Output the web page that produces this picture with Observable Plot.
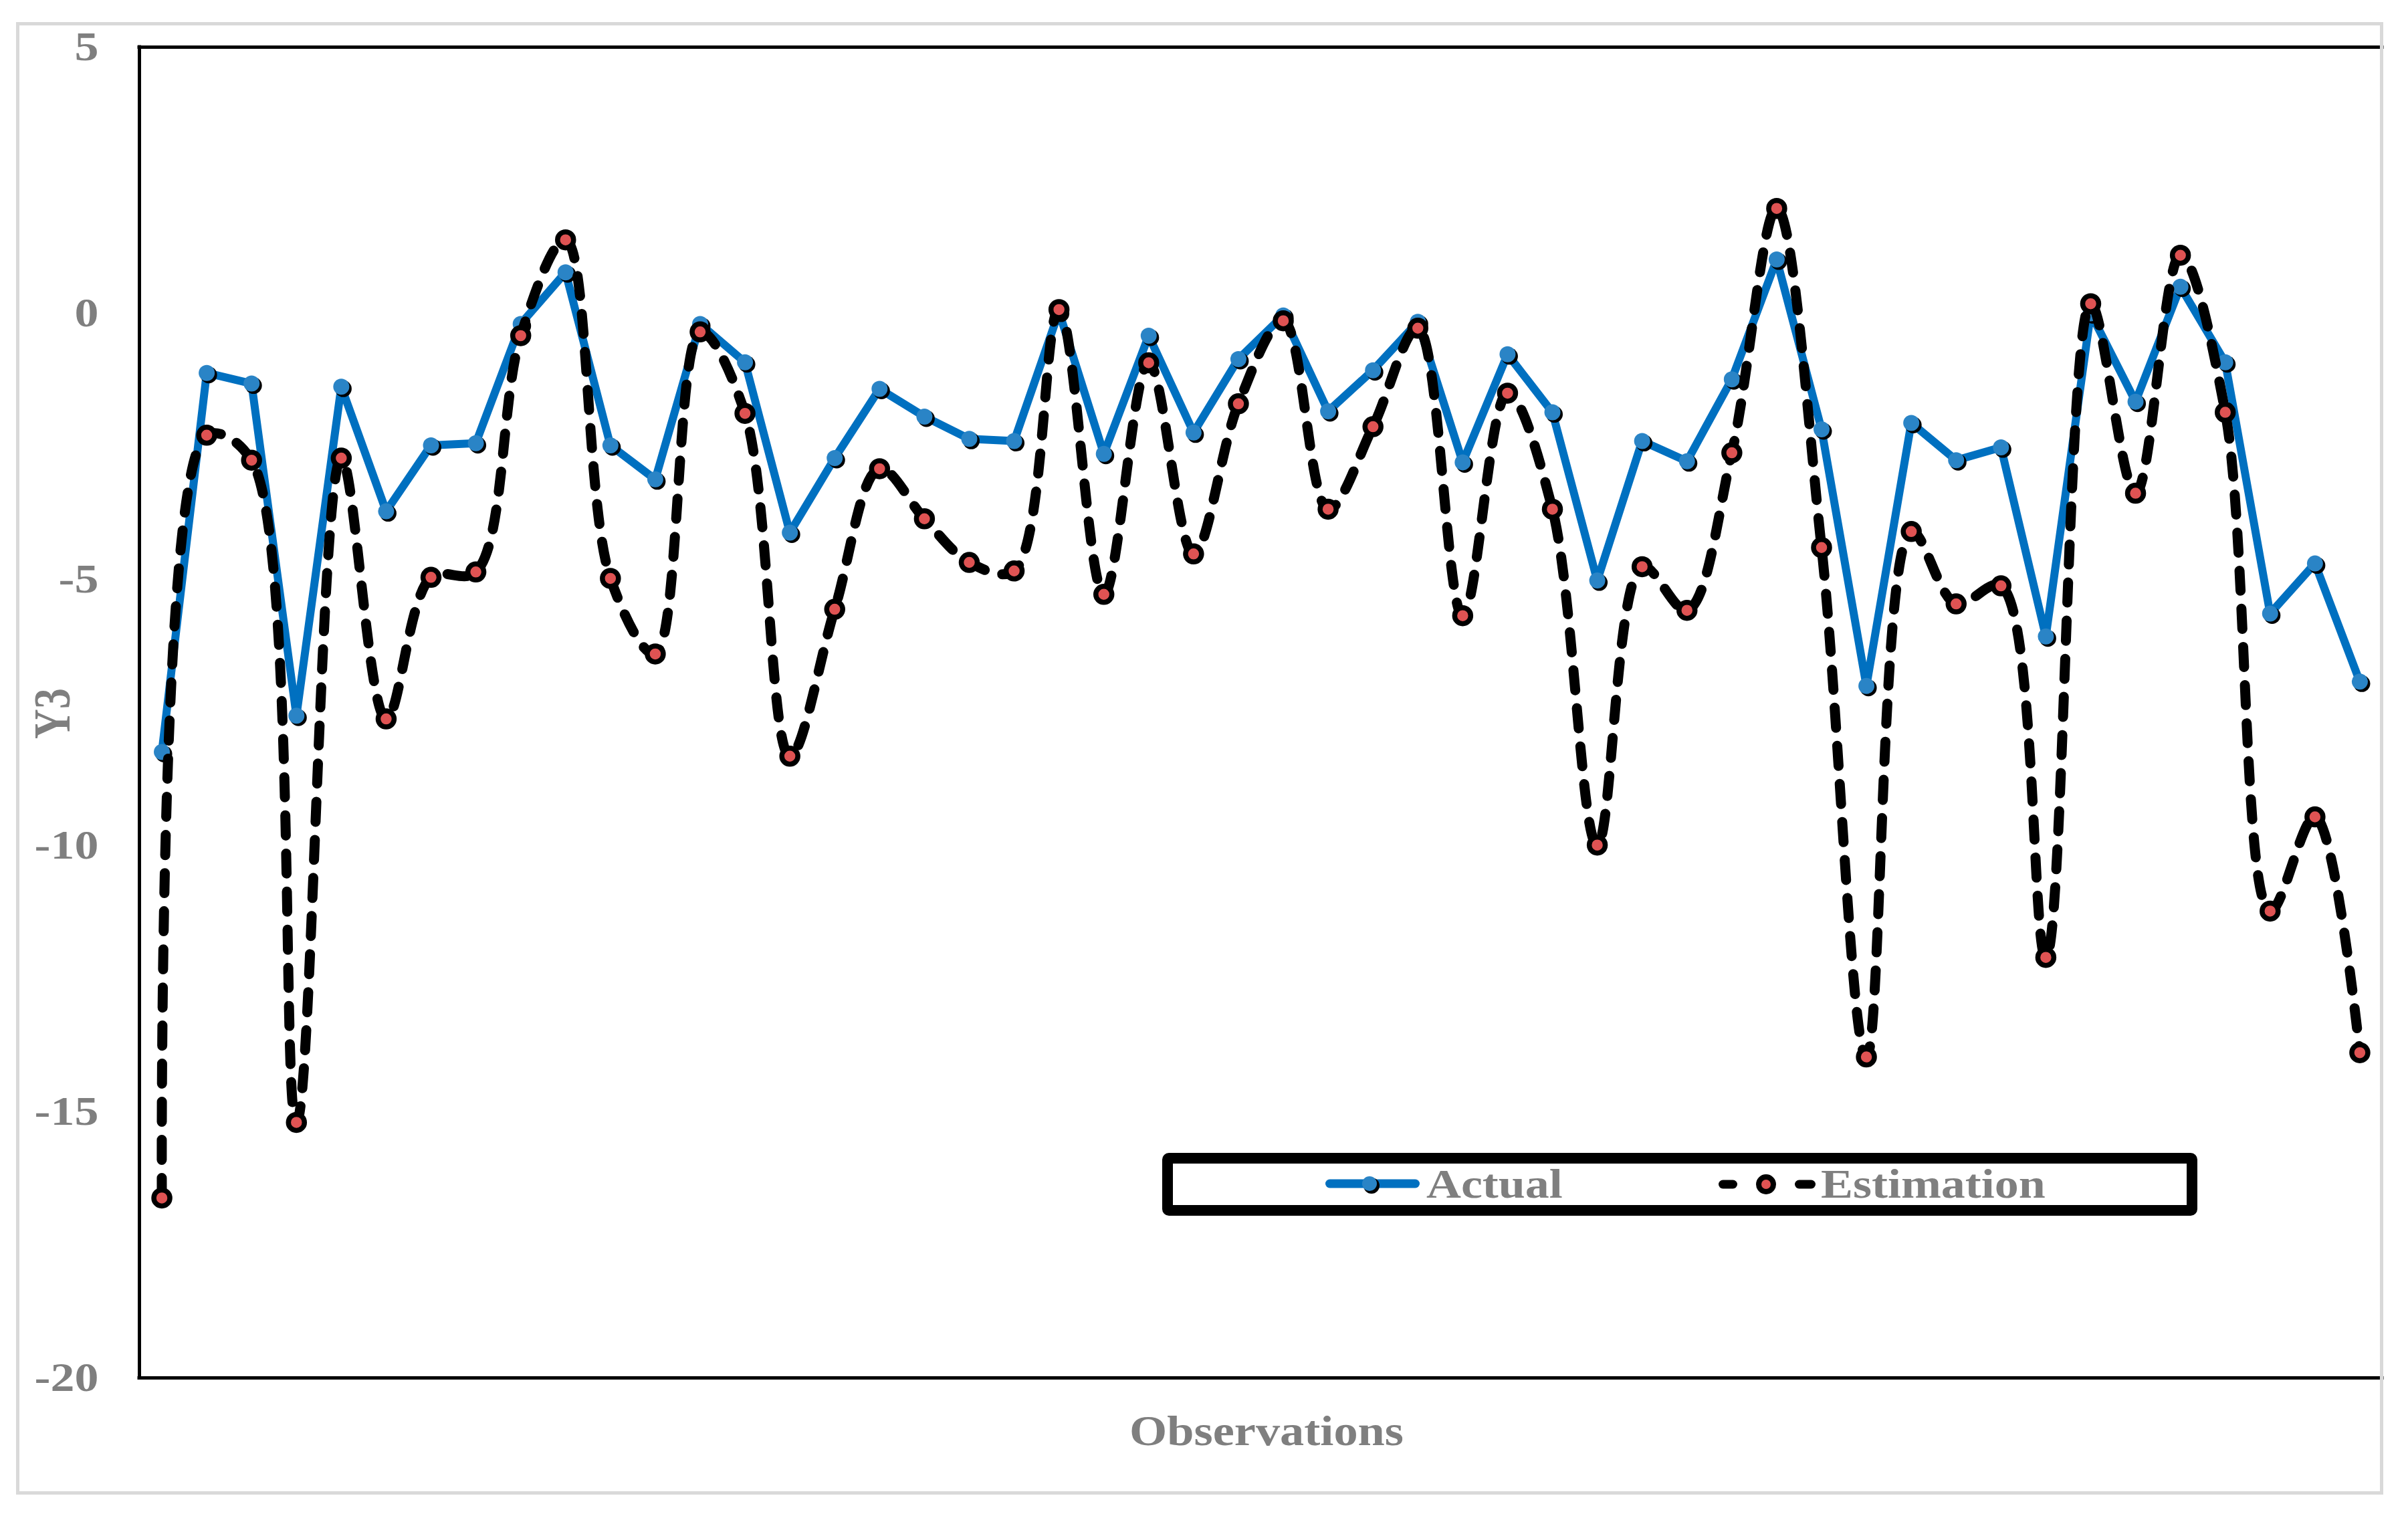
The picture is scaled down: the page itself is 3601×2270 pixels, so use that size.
<!DOCTYPE html>
<html>
<head>
<meta charset="utf-8">
<script src="https://cdn.jsdelivr.net/npm/d3@7"></script>
<script src="https://cdn.jsdelivr.net/npm/@observablehq/plot@0.6"></script>
<style>
  html, body { margin: 0; padding: 0; background: #fff; }
  #wrap { position: relative; width: 3601px; height: 2270px; overflow: hidden; background: #fff; }
  #wrap > svg { position: absolute; left: 0; top: 0; }
  #border { position: absolute; left: 24px; top: 33px; width: 3530px; height: 2192px; border: 5px solid #d9d9d9; pointer-events: none; }
  .txt { position: absolute; font-family: "Liberation Serif", "Times New Roman", serif; font-weight: bold; color: #7f7f7f; line-height: 1; white-space: nowrap; }
  #ytitle { left: 78px; top: 1067px; font-size: 62px; transform: translate(-50%, -50%) rotate(-90deg) scaleY(1.25); transform-origin: center; }
  #xtitle { left: 1894px; top: 2108px; font-size: 64px; transform: translateX(-50%) scaleX(1.13); transform-origin: center; }
  #legend { position: absolute; left: 1738px; top: 1724px; width: 1548px; height: 94px; box-sizing: border-box; border: 16px solid #000; border-radius: 10px; background: #fff; }
  #legend .sw { position: absolute; }
  #legend .lt { position: absolute; top: -1px; font-size: 62px; transform: scaleX(1.16); transform-origin: left center; }
  svg text { font-family: "Liberation Serif", "Times New Roman", serif; font-weight: bold; }
</style>
</head>
<body>
<div id="wrap">
  <div id="border"></div>
</div>
<script>
// ---- data ----
const actual = [-8.24, -1.12, -1.32, -7.56, -1.38, -3.72, -2.48, -2.44, -0.2, 0.77,
  -2.48, -3.12, -0.2, -0.92, -4.12, -2.72, -1.42, -1.94, -2.36, -2.4,
  0.03, -2.64, -0.42, -2.24, -0.86, -0.04, -1.84, -1.07, -0.16, -2.8,
  -0.77, -1.86, -5.02, -2.4, -2.78, -1.24, 1.01, -2.18, -7.0, -2.06,
  -2.76, -2.52, -6.07, 0.0, -1.66, 0.5, -0.92, -5.64, -4.7, -6.92];
const estimation = [-16.62, -2.29, -2.76, -15.2, -2.72, -7.62, -4.96, -4.86, -0.42, 1.38,
  -4.98, -6.4, -0.35, -1.88, -8.32, -5.56, -2.92, -3.86, -4.68, -4.84,
  0.07, -5.28, -0.93, -4.52, -1.7, -0.14, -3.68, -2.13, -0.28, -5.68,
  -1.5, -3.68, -9.99, -4.76, -5.58, -2.62, 1.97, -4.4, -13.97, -4.1,
  -5.46, -5.12, -12.1, 0.18, -3.38, 1.09, -1.86, -11.23, -9.46, -13.89];
const yTicks = [5, 0, -5, -10, -15, -20];
const seriesNames = ["Actual", "Estimation"];
const xTitle = "Observations";
const yTitle = "Y3";

const obs = actual.map((_, i) => i + 1);
const rows = obs.map((o, i) => ({obs: o, actual: actual[i], estimation: estimation[i]}));
const xDomain = [0.5, obs.length + 0.5];
const yDomain = [yTicks[yTicks.length - 1], yTicks[0]];

const chart = Plot.plot({
  width: 3601,
  height: 2270,
  marginLeft: 208,
  marginRight: 39,
  marginTop: 70,
  marginBottom: 210,
  style: {background: "transparent", color: "#7f7f7f", overflow: "visible"},
  x: {domain: xDomain, axis: null},
  y: {domain: yDomain, axis: null},
  marks: [
    Plot.axisY(yTicks, {tickSize: 0, tickPadding: 61, fontSize: 62, fontWeight: "bold", fill: "#7f7f7f",
      tickFormat: d => String(d), label: null}),
    Plot.ruleY([yDomain[0], yDomain[1]], {stroke: "black", strokeWidth: 5, strokeLinecap: "square"}),
    Plot.ruleX([xDomain[0]], {stroke: "black", strokeWidth: 5, strokeLinecap: "square"}),
    Plot.line(rows, {x: "obs", y: "actual", stroke: "#0070c0", strokeWidth: 12, strokeLinejoin: "round"}),
    Plot.dot(rows, {x: "obs", y: "actual", r: 12.5, fill: "black", dx: 3, dy: 3}),
    Plot.dot(rows, {x: "obs", y: "actual", r: 12, fill: "#2a84c6"}),
    Plot.line(rows, {x: "obs", y: "estimation", stroke: "black", strokeWidth: 15,
      strokeDasharray: "30,27", strokeLinecap: "round", curve: "catmull-rom"}),
    Plot.dot(rows, {x: "obs", y: "estimation", r: 12, fill: "#df5353", stroke: "black", strokeWidth: 7.5})
  ]
});

const wrap = document.getElementById("wrap");
wrap.insertBefore(chart, wrap.firstChild);

// widen tick labels like the reference's stretched serif text
chart.querySelectorAll("text").forEach(t => {
  t.style.fontSize = "62px";
  t.style.fill = "#7f7f7f";
  const L = t.getComputedTextLength();
  if (L > 0) {
    t.setAttribute("textLength", (L * 1.16).toFixed(1));
    t.setAttribute("lengthAdjust", "spacingAndGlyphs");
  }
});

// axis titles
const yt = document.createElement("div");
yt.className = "txt"; yt.id = "ytitle"; yt.textContent = yTitle;
wrap.appendChild(yt);
const xt = document.createElement("div");
xt.className = "txt"; xt.id = "xtitle"; xt.textContent = xTitle;
wrap.appendChild(xt);

// legend
const legend = document.createElement("div");
legend.id = "legend";
legend.innerHTML = `
  <svg class="sw" style="left:228px; top:10px" width="141" height="40">
    <line x1="6.5" y1="20" x2="134.5" y2="20" stroke="#0070c0" stroke-width="13" stroke-linecap="round"/>
    <circle cx="69" cy="23" r="12" fill="black"/>
    <circle cx="66" cy="20" r="11" fill="#2a84c6"/>
  </svg>
  <div class="txt lt" style="left:379px">${seriesNames[0]}</div>
  <svg class="sw" style="left:816px; top:11px" width="145" height="40">
    <line x1="6.5" y1="20" x2="21.5" y2="20" stroke="black" stroke-width="13" stroke-linecap="round"/>
    <circle cx="71" cy="20" r="11" fill="#df5353" stroke="black" stroke-width="8"/>
    <line x1="120.5" y1="20" x2="138.5" y2="20" stroke="black" stroke-width="13" stroke-linecap="round"/>
  </svg>
  <div class="txt lt" style="left:969px">${seriesNames[1]}</div>
`;
wrap.appendChild(legend);
</script>
</body>
</html>
